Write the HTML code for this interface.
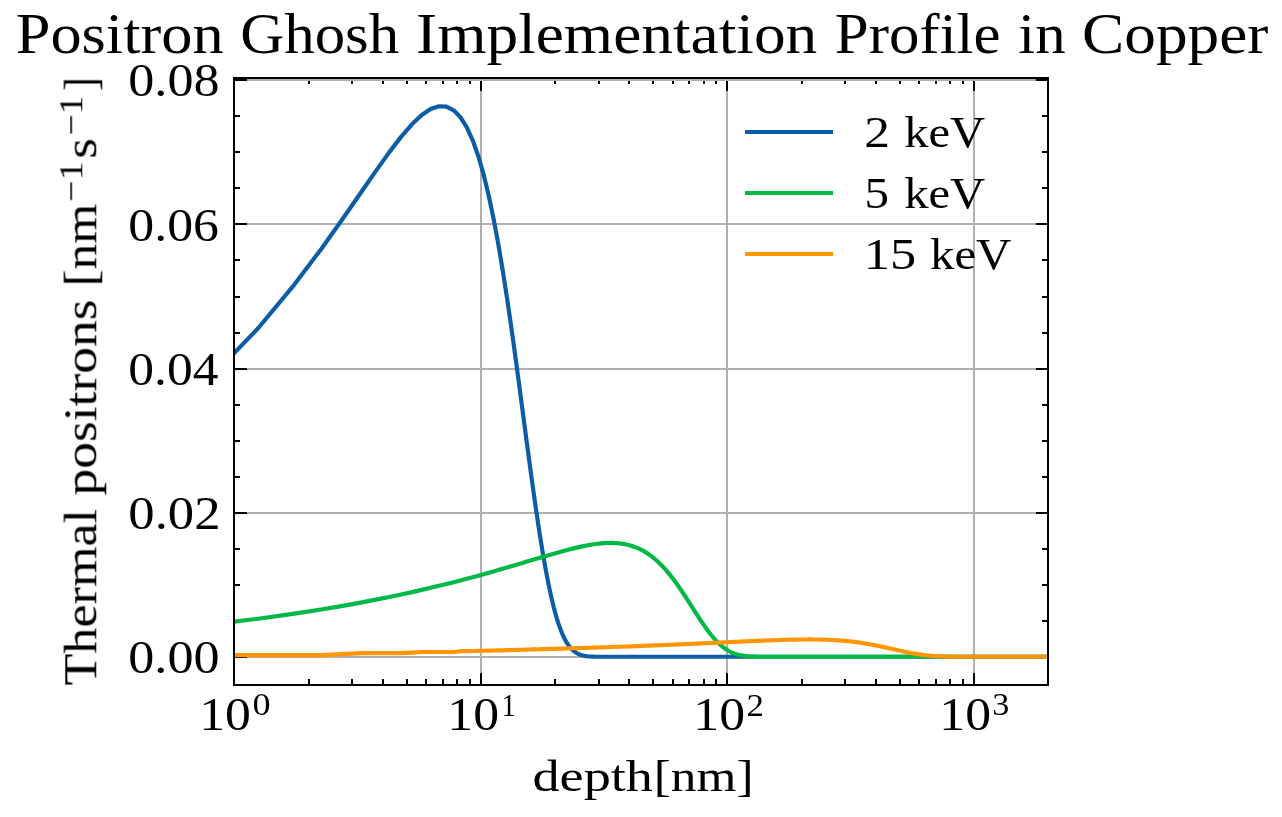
<!DOCTYPE html>
<html lang="en"><head><meta charset="utf-8"><title>Positron Ghosh Implementation Profile in Copper</title>
<style>html,body{margin:0;padding:0;background:#fff}svg{display:block}text{font-family:"Liberation Serif",serif;fill:#000}</style></head><body>
<svg width="1282" height="817" viewBox="0 0 1282 817">
<rect width="1282" height="817" fill="#fff"/>
<defs><clipPath id="ax"><rect x="234.4375" y="78.375" width="813.75" height="606.375"/></clipPath></defs>
<g fill="#b0b0b0"><rect x="480" y="78.375" width="2" height="606.375"/><rect x="726" y="78.375" width="2" height="606.375"/><rect x="973" y="78.375" width="2" height="606.375"/></g>
<g fill="#000"><rect x="233" y="673" width="2" height="12"/><rect x="233" y="78" width="2" height="13"/><rect x="308" y="679" width="2" height="6"/><rect x="308" y="78" width="2" height="6"/><rect x="351" y="679" width="2" height="6"/><rect x="351" y="78" width="2" height="6"/><rect x="382" y="679" width="2" height="6"/><rect x="382" y="78" width="2" height="6"/><rect x="406" y="679" width="2" height="6"/><rect x="406" y="78" width="2" height="6"/><rect x="425" y="679" width="2" height="6"/><rect x="425" y="78" width="2" height="6"/><rect x="442" y="679" width="2" height="6"/><rect x="442" y="78" width="2" height="6"/><rect x="456" y="679" width="2" height="6"/><rect x="456" y="78" width="2" height="6"/><rect x="469" y="679" width="2" height="6"/><rect x="469" y="78" width="2" height="6"/><rect x="480" y="673" width="2" height="12"/><rect x="480" y="78" width="2" height="13"/><rect x="554" y="679" width="2" height="6"/><rect x="554" y="78" width="2" height="6"/><rect x="598" y="679" width="2" height="6"/><rect x="598" y="78" width="2" height="6"/><rect x="628" y="679" width="2" height="6"/><rect x="628" y="78" width="2" height="6"/><rect x="652" y="679" width="2" height="6"/><rect x="652" y="78" width="2" height="6"/><rect x="672" y="679" width="2" height="6"/><rect x="672" y="78" width="2" height="6"/><rect x="688" y="679" width="2" height="6"/><rect x="688" y="78" width="2" height="6"/><rect x="703" y="679" width="2" height="6"/><rect x="703" y="78" width="2" height="6"/><rect x="715" y="679" width="2" height="6"/><rect x="715" y="78" width="2" height="6"/><rect x="726" y="673" width="2" height="12"/><rect x="726" y="78" width="2" height="13"/><rect x="801" y="679" width="2" height="6"/><rect x="801" y="78" width="2" height="6"/><rect x="844" y="679" width="2" height="6"/><rect x="844" y="78" width="2" height="6"/><rect x="875" y="679" width="2" height="6"/><rect x="875" y="78" width="2" height="6"/><rect x="899" y="679" width="2" height="6"/><rect x="899" y="78" width="2" height="6"/><rect x="918" y="679" width="2" height="6"/><rect x="918" y="78" width="2" height="6"/><rect x="935" y="679" width="2" height="6"/><rect x="935" y="78" width="2" height="6"/><rect x="949" y="679" width="2" height="6"/><rect x="949" y="78" width="2" height="6"/><rect x="962" y="679" width="2" height="6"/><rect x="962" y="78" width="2" height="6"/><rect x="973" y="673" width="2" height="12"/><rect x="973" y="78" width="2" height="13"/><rect x="1047" y="679" width="2" height="6"/><rect x="1047" y="78" width="2" height="6"/></g>
<g fill="#b0b0b0"><rect x="234.4375" y="656" width="813.75" height="2"/><rect x="234.4375" y="512" width="813.75" height="2"/><rect x="234.4375" y="368" width="813.75" height="2"/><rect x="234.4375" y="223" width="813.75" height="2"/><rect x="234.4375" y="79" width="813.75" height="2"/></g>
<g fill="#000"><rect x="234" y="656" width="13" height="2"/><rect x="1036" y="656" width="12" height="2"/><rect x="234" y="620" width="6" height="2"/><rect x="1042" y="620" width="6" height="2"/><rect x="234" y="584" width="6" height="2"/><rect x="1042" y="584" width="6" height="2"/><rect x="234" y="548" width="6" height="2"/><rect x="1042" y="548" width="6" height="2"/><rect x="234" y="512" width="13" height="2"/><rect x="1036" y="512" width="12" height="2"/><rect x="234" y="476" width="6" height="2"/><rect x="1042" y="476" width="6" height="2"/><rect x="234" y="440" width="6" height="2"/><rect x="1042" y="440" width="6" height="2"/><rect x="234" y="404" width="6" height="2"/><rect x="1042" y="404" width="6" height="2"/><rect x="234" y="368" width="13" height="2"/><rect x="1036" y="368" width="12" height="2"/><rect x="234" y="332" width="6" height="2"/><rect x="1042" y="332" width="6" height="2"/><rect x="234" y="296" width="6" height="2"/><rect x="1042" y="296" width="6" height="2"/><rect x="234" y="259" width="6" height="2"/><rect x="1042" y="259" width="6" height="2"/><rect x="234" y="223" width="13" height="2"/><rect x="1036" y="223" width="12" height="2"/><rect x="234" y="187" width="6" height="2"/><rect x="1042" y="187" width="6" height="2"/><rect x="234" y="151" width="6" height="2"/><rect x="1042" y="151" width="6" height="2"/><rect x="234" y="115" width="6" height="2"/><rect x="1042" y="115" width="6" height="2"/><rect x="234" y="79" width="13" height="2"/><rect x="1036" y="79" width="12" height="2"/></g>
<g clip-path="url(#ax)" fill="none" stroke-width="4.1667" stroke-linejoin="round">
<polyline stroke="#0C5DA5" points="203.64,384.76 258.33,327.98 294.35,284.56 321.26,248.94 342.74,218.80 360.62,192.97 375.94,170.86 389.34,152.14 401.25,136.63 411.97,124.29 421.71,115.10 430.63,109.07 438.87,106.25 446.52,106.65 453.66,110.27 460.36,117.09 466.66,127.05 472.60,140.05 478.24,155.93 483.60,174.49 488.69,195.50 493.56,218.66 498.22,243.64 502.68,270.09 506.96,297.61 511.08,325.81 515.05,354.28 518.87,382.63 522.56,410.48 526.13,437.48 529.58,463.31 532.93,487.72 536.17,510.50 539.32,531.47 542.38,550.55 545.36,567.67 548.25,582.85 551.07,596.13 553.81,607.59 556.49,617.35 559.10,625.56 561.65,632.36 564.14,637.92 566.57,642.40 568.95,645.96 571.28,648.75 573.56,650.90 575.79,652.54 577.97,653.76 580.11,654.67 582.21,655.32 584.27,655.79 586.29,656.12 588.28,656.34 590.22,656.50 592.13,656.60 594.01,656.67 595.86,656.71 597.67,656.74 599.46,656.75 601.21,656.77 602.94,656.77 604.64,656.78 606.31,656.78 607.96,656.78 609.58,656.78 611.18,656.78 612.75,656.78 614.30,656.78 615.83,656.78 617.34,656.78 618.83,656.78 620.30,656.78 621.74,656.78 623.17,656.78 624.58,656.78 625.97,656.78 627.34,656.78 628.70,656.78 630.03,656.78 631.36,656.78 632.66,656.78 633.95,656.78 635.23,656.78 636.49,656.78 637.73,656.78 638.96,656.78 640.18,656.78 641.38,656.78 642.57,656.78 643.75,656.78 644.91,656.78 646.06,656.78 647.20,656.78 648.33,656.78 649.44,656.78 650.55,656.78 651.64,656.78 652.72,656.78 653.79,656.78 654.85,656.78 655.90,656.78 656.94,656.78 657.97,656.78 658.99,656.78 660.00,656.78 661.00,656.78 661.99,656.78 662.97,656.78 663.95,656.78 664.91,656.78 665.87,656.78 666.81,656.78 667.75,656.78 668.68,656.78 669.61,656.78 670.52,656.78 671.43,656.78 672.33,656.78 673.22,656.78 674.11,656.78 674.98,656.78 675.85,656.78 676.72,656.78 677.57,656.78 678.42,656.78 679.27,656.78 680.10,656.78 680.93,656.78 681.76,656.78 682.57,656.78 683.39,656.78 684.19,656.78 684.99,656.78 685.78,656.78 686.57,656.78 687.35,656.78 688.13,656.78 688.90,656.78 689.66,656.78 690.42,656.78 691.17,656.78 691.92,656.78 692.67,656.78 693.41,656.78 694.14,656.78 694.87,656.78 695.59,656.78 696.31,656.78 697.02,656.78 697.73,656.78 698.44,656.78 699.14,656.78 699.83,656.78 700.52,656.78 701.21,656.78 701.89,656.78 702.57,656.78 703.24,656.78 703.91,656.78 704.57,656.78 705.24,656.78 705.89,656.78 706.55,656.78 707.19,656.78 707.84,656.78 708.48,656.78 709.12,656.78 709.75,656.78 710.38,656.78 711.01,656.78 711.63,656.78 712.25,656.78 712.86,656.78 713.48,656.78 714.08,656.78 714.69,656.78 715.29,656.78 716.48,656.78 717.66,656.78 718.83,656.78 719.98,656.78 721.13,656.78 722.26,656.78 723.37,656.78 724.48,656.78 725.58,656.78 726.66,656.78 727.73,656.78 728.80,656.78 729.85,656.78 730.89,656.78 731.92,656.78 732.94,656.78 733.96,656.78 734.96,656.78 735.95,656.78 736.94,656.78 737.91,656.78 738.88,656.78 739.84,656.78 740.79,656.78 741.73,656.78 742.66,656.78 743.59,656.78 744.50,656.78 745.41,656.78 746.31,656.78 747.21,656.78 748.09,656.78 748.97,656.78 749.85,656.78 750.71,656.78 751.57,656.78 752.42,656.78 753.27,656.78 754.10,656.78 754.93,656.78 755.76,656.78 756.58,656.78 757.39,656.78 758.20,656.78 759.00,656.78 759.79,656.78 760.58,656.78 761.36,656.78 762.14,656.78 762.91,656.78 763.68,656.78 764.44,656.78 765.19,656.78 765.94,656.78 766.69,656.78 767.43,656.78 768.16,656.78 768.89,656.78 769.62,656.78 770.34,656.78 771.05,656.78 771.76,656.78 772.47,656.78 773.17,656.78 773.87,656.78 774.56,656.78 775.24,656.78 775.93,656.78 776.61,656.78 777.28,656.78 777.95,656.78 778.62,656.78 779.28,656.78 779.94,656.78 780.59,656.78 781.24,656.78 781.89,656.78 782.53,656.78 783.17,656.78 783.80,656.78 784.43,656.78 785.06,656.78 785.68,656.78 786.30,656.78 786.92,656.78 787.53,656.78 788.14,656.78 788.75,656.78 789.35,656.78 790.24,656.78 791.13,656.78 792.02,656.78 792.89,656.78 793.76,656.78 794.62,656.78 795.48,656.78 796.32,656.78 797.16,656.78 798.00,656.78 798.83,656.78 799.65,656.78 800.46,656.78 801.27,656.78 802.07,656.78 802.87,656.78 803.66,656.78 804.45,656.78 805.23,656.78 806.00,656.78 806.77,656.78 807.53,656.78 808.29,656.78 809.04,656.78 809.79,656.78 810.53,656.78 811.27,656.78 812.00,656.78 812.73,656.78 813.45,656.78 814.16,656.78 814.88,656.78 815.58,656.78 816.29,656.78 816.98,656.78 817.68,656.78 818.37,656.78 819.05,656.78 819.73,656.78 820.41,656.78 821.08,656.78 821.75,656.78 822.41,656.78 823.07,656.78 823.73,656.78 824.38,656.78 825.03,656.78 825.67,656.78 826.31,656.78 826.95,656.78 827.58,656.78 828.21,656.78 828.83,656.78 829.45,656.78 830.07,656.78 830.68,656.78 831.30,656.78 831.90,656.78 832.51,656.78 833.11,656.78 833.90,656.78 834.69,656.78 835.47,656.78 836.25,656.78 837.02,656.78 837.79,656.78 838.55,656.78 839.31,656.78 840.06,656.78 840.80,656.78 841.55,656.78 842.28,656.78 843.01,656.78 843.74,656.78 844.46,656.78 845.17,656.78 845.88,656.78 846.59,656.78 847.29,656.78 847.99,656.78 848.68,656.78 849.37,656.78 850.05,656.78 850.73,656.78 851.40,656.78 852.08,656.78 852.74,656.78 853.40,656.78 854.06,656.78 854.72,656.78 855.37,656.78 856.01,656.78 856.66,656.78 857.30,656.78 857.93,656.78 858.56,656.78 859.19,656.78 859.81,656.78 860.43,656.78 861.05,656.78 861.66,656.78 862.27,656.78 862.88,656.78 863.48,656.78 864.23,656.78 864.97,656.78 865.71,656.78 866.44,656.78 867.17,656.78 867.90,656.78 868.61,656.78 869.33,656.78 870.04,656.78 870.74,656.78 871.44,656.78 872.14,656.78 872.83,656.78 873.51,656.78 874.20,656.78 874.87,656.78 875.55,656.78 876.22,656.78 876.88,656.78 877.54,656.78 878.20,656.78 878.85,656.78 879.50,656.78 880.14,656.78 880.79,656.78 881.42,656.78 882.06,656.78 882.69,656.78 883.31,656.78 883.94,656.78 884.55,656.78 885.17,656.78 885.78,656.78 886.39,656.78 886.99,656.78 887.60,656.78 888.31,656.78 889.03,656.78 889.73,656.78 890.44,656.78 891.14,656.78 891.83,656.78 892.52,656.78 893.20,656.78 893.88,656.78 894.56,656.78 895.23,656.78 895.90,656.78 896.57,656.78 897.23,656.78 897.88,656.78 898.53,656.78 899.18,656.78 899.82,656.78 900.46,656.78 901.10,656.78 901.73,656.78 902.36,656.78 902.99,656.78 903.61,656.78 904.23,656.78 904.84,656.78 905.45,656.78 906.06,656.78 906.66,656.78 907.26,656.78 907.96,656.78 908.65,656.78 909.34,656.78 910.02,656.78 910.70,656.78 911.38,656.78 912.05,656.78 912.71,656.78 913.38,656.78 914.03,656.78 914.69,656.78 915.34,656.78 915.98,656.78 916.63,656.78 917.26,656.78 917.90,656.78 918.53,656.78 919.16,656.78 919.78,656.78 920.40,656.78 921.02,656.78 921.63,656.78 922.24,656.78 922.84,656.78 923.45,656.78 924.13,656.78 924.81,656.78 925.49,656.78 926.16,656.78 926.83,656.78 927.49,656.78 928.15,656.78 928.80,656.78 929.45,656.78 930.10,656.78 930.74,656.78 931.38,656.78 932.02,656.78 932.65,656.78 933.28,656.78 933.90,656.78 934.52,656.78 935.14,656.78 935.76,656.78 936.37,656.78 936.97,656.78 937.58,656.78 938.25,656.78 938.92,656.78 939.59,656.78 940.25,656.78 940.91,656.78 941.56,656.78 942.21,656.78 942.86,656.78 943.50,656.78 944.14,656.78 944.77,656.78 945.41,656.78 946.03,656.78 946.66,656.78 947.28,656.78 947.89,656.78 948.51,656.78 949.12,656.78 949.72,656.78 950.32,656.78 950.99,656.78 951.65,656.78 952.31,656.78 952.96,656.78 953.61,656.78 954.26,656.78 954.90,656.78 955.54,656.78 956.17,656.78 956.80,656.78 957.43,656.78 958.05,656.78 958.67,656.78 959.29,656.78 959.90,656.78 960.51,656.78 961.11,656.78 961.71,656.78 962.37,656.78 963.03,656.78 963.68,656.78 964.32,656.78 964.97,656.78 965.60,656.78 966.24,656.78 966.87,656.78 967.50,656.78 968.12,656.78 968.74,656.78 969.36,656.78 969.97,656.78 970.58,656.78 971.19,656.78 971.79,656.78 972.44,656.78 973.09,656.78 973.74,656.78 974.38,656.78 975.02,656.78 975.65,656.78 976.28,656.78 976.91,656.78 977.53,656.78 978.15,656.78 978.77,656.78 979.38,656.78 979.99,656.78 980.60,656.78 981.20,656.78 981.85,656.78 982.49,656.78 983.13,656.78 983.77,656.78 984.40,656.78 985.03,656.78 985.66,656.78 986.28,656.78 986.90,656.78 987.51,656.78 988.12,656.78 988.73,656.78 989.34,656.78 989.94,656.78 990.58,656.78 991.22,656.78 991.86,656.78 992.49,656.78 993.12,656.78 993.74,656.78 994.37,656.78 994.98,656.78 995.60,656.78 996.21,656.78 996.81,656.78 997.42,656.78 998.02,656.78 998.66,656.78 999.29,656.78 999.93,656.78 1000.55,656.78 1001.18,656.78 1001.80,656.78 1002.42,656.78 1003.03,656.78 1003.64,656.78 1004.25,656.78 1004.85,656.78 1005.45,656.78 1006.09,656.78 1006.72,656.78 1007.35,656.78 1007.98,656.78 1008.60,656.78 1009.22,656.78 1009.83,656.78 1010.44,656.78 1011.05,656.78 1011.65,656.78 1012.25,656.78 1012.89,656.78 1013.52,656.78 1014.15,656.78 1014.77,656.78 1015.39,656.78 1016.01,656.78 1016.62,656.78 1017.23,656.78 1017.83,656.78 1018.44,656.78 1019.07,656.78 1019.70,656.78 1020.33,656.78 1020.95,656.78 1021.57,656.78 1022.19,656.78 1022.80,656.78 1023.41,656.78 1024.01,656.78 1024.62,656.78 1025.25,656.78 1025.88,656.78 1026.50,656.78 1027.12,656.78 1027.74,656.78 1028.35,656.78 1028.96,656.78 1029.57,656.78 1030.17,656.78 1030.77,656.78 1031.40,656.78 1032.02,656.78 1032.65,656.78 1033.26,656.78 1033.88,656.78 1034.49,656.78 1035.09,656.78 1035.70,656.78 1036.33,656.78 1036.95,656.78 1037.57,656.78 1038.19,656.78 1038.81,656.78 1039.42,656.78 1040.03,656.78 1040.63,656.78 1041.24,656.78 1041.86,656.78 1042.48,656.78 1043.10,656.78 1043.72,656.78 1044.33,656.78 1044.94,656.78 1045.55,656.78 1046.15,656.78 1046.77,656.78 1047.40,656.78 1048.01,656.78 1048.20,656.78"/>
<polyline stroke="#00B945" points="203.64,625.26 258.33,618.71 294.35,613.67 321.26,609.48 342.74,605.83 360.62,602.59 375.94,599.65 389.34,596.95 401.25,594.45 411.97,592.10 421.71,589.90 430.63,587.82 438.87,585.84 446.52,583.96 453.66,582.16 460.36,580.44 466.66,578.79 472.60,577.20 478.24,575.67 483.60,574.19 488.69,572.77 493.56,571.39 498.22,570.06 502.68,568.77 506.96,567.53 511.08,566.32 515.05,565.15 518.87,564.02 522.56,562.92 526.13,561.86 529.58,560.83 532.93,559.83 536.17,558.86 539.32,557.92 542.38,557.02 545.36,556.14 548.25,555.30 551.07,554.48 553.81,553.69 556.49,552.93 559.10,552.20 561.65,551.49 564.14,550.82 566.57,550.17 568.95,549.55 571.28,548.96 573.56,548.39 575.79,547.86 577.97,547.35 580.11,546.86 582.21,546.41 584.27,545.98 586.29,545.58 588.28,545.21 590.22,544.87 592.13,544.55 594.01,544.26 595.86,544.00 597.67,543.77 599.46,543.56 601.21,543.39 602.94,543.24 604.64,543.12 606.31,543.03 607.96,542.96 609.58,542.93 611.18,542.92 612.75,542.94 614.30,543.00 615.83,543.07 617.34,543.18 618.83,543.32 620.30,543.48 621.74,543.67 623.17,543.89 624.58,544.14 625.97,544.42 627.34,544.72 628.70,545.06 630.03,545.42 631.36,545.81 632.66,546.22 633.95,546.67 635.23,547.14 636.49,547.63 637.73,548.16 638.96,548.71 640.18,549.28 641.38,549.89 642.57,550.52 643.75,551.17 644.91,551.85 646.06,552.55 647.20,553.28 648.33,554.03 649.44,554.80 650.55,555.60 651.64,556.42 652.72,557.26 653.79,558.13 654.85,559.01 655.90,559.92 656.94,560.84 657.97,561.79 658.99,562.75 660.00,563.74 661.00,564.74 661.99,565.75 662.97,566.79 663.95,567.84 664.91,568.90 665.87,569.98 666.81,571.08 667.75,572.18 668.68,573.30 669.61,574.44 670.52,575.58 671.43,576.73 672.33,577.89 673.22,579.07 674.11,580.25 674.98,581.43 675.85,582.63 676.72,583.83 677.57,585.03 678.42,586.24 679.27,587.46 680.10,588.68 680.93,589.90 681.76,591.12 682.57,592.34 683.39,593.56 684.19,594.78 684.99,596.00 685.78,597.22 686.57,598.43 687.35,599.65 688.13,600.85 688.90,602.06 689.66,603.25 690.42,604.45 691.17,605.63 691.92,606.81 692.67,607.98 693.41,609.14 694.14,610.29 694.87,611.43 695.59,612.56 696.31,613.68 697.02,614.79 697.73,615.88 698.44,616.97 699.14,618.04 699.83,619.10 700.52,620.14 701.21,621.18 701.89,622.19 702.57,623.19 703.24,624.18 703.91,625.15 704.57,626.11 705.24,627.05 705.89,627.97 706.55,628.88 707.19,629.77 707.84,630.64 708.48,631.50 709.12,632.34 709.75,633.16 710.38,633.97 711.01,634.76 711.63,635.53 712.25,636.28 712.86,637.02 713.48,637.74 714.08,638.44 714.69,639.12 715.29,639.79 716.48,641.07 717.66,642.28 718.83,643.42 719.98,644.50 721.13,645.52 722.26,646.47 723.37,647.36 724.48,648.19 725.58,648.96 726.66,649.68 727.73,650.35 728.80,650.97 729.85,651.54 730.89,652.06 731.92,652.54 732.94,652.98 733.96,653.38 734.96,653.75 735.95,654.08 736.94,654.39 737.91,654.66 738.88,654.91 739.84,655.13 740.79,655.33 741.73,655.51 742.66,655.66 743.59,655.81 744.50,655.93 745.41,656.04 746.31,656.14 747.21,656.23 748.09,656.30 748.97,656.37 749.85,656.43 750.71,656.48 751.57,656.52 752.42,656.56 753.27,656.60 754.10,656.62 754.93,656.65 755.76,656.67 756.58,656.69 757.39,656.70 758.20,656.71 759.00,656.73 759.79,656.74 760.58,656.74 761.36,656.75 762.14,656.75 762.91,656.76 763.68,656.76 764.44,656.77 765.19,656.77 765.94,656.77 766.69,656.77 767.43,656.77 768.16,656.78 768.89,656.78 769.62,656.78 770.34,656.78 771.05,656.78 771.76,656.78 772.47,656.78 773.17,656.78 773.87,656.78 774.56,656.78 775.24,656.78 775.93,656.78 776.61,656.78 777.28,656.78 777.95,656.78 778.62,656.78 779.28,656.78 779.94,656.78 780.59,656.78 781.24,656.78 781.89,656.78 782.53,656.78 783.17,656.78 783.80,656.78 784.43,656.78 785.06,656.78 785.68,656.78 786.30,656.78 786.92,656.78 787.53,656.78 788.14,656.78 788.75,656.78 789.35,656.78 790.24,656.78 791.13,656.78 792.02,656.78 792.89,656.78 793.76,656.78 794.62,656.78 795.48,656.78 796.32,656.78 797.16,656.78 798.00,656.78 798.83,656.78 799.65,656.78 800.46,656.78 801.27,656.78 802.07,656.78 802.87,656.78 803.66,656.78 804.45,656.78 805.23,656.78 806.00,656.78 806.77,656.78 807.53,656.78 808.29,656.78 809.04,656.78 809.79,656.78 810.53,656.78 811.27,656.78 812.00,656.78 812.73,656.78 813.45,656.78 814.16,656.78 814.88,656.78 815.58,656.78 816.29,656.78 816.98,656.78 817.68,656.78 818.37,656.78 819.05,656.78 819.73,656.78 820.41,656.78 821.08,656.78 821.75,656.78 822.41,656.78 823.07,656.78 823.73,656.78 824.38,656.78 825.03,656.78 825.67,656.78 826.31,656.78 826.95,656.78 827.58,656.78 828.21,656.78 828.83,656.78 829.45,656.78 830.07,656.78 830.68,656.78 831.30,656.78 831.90,656.78 832.51,656.78 833.11,656.78 833.90,656.78 834.69,656.78 835.47,656.78 836.25,656.78 837.02,656.78 837.79,656.78 838.55,656.78 839.31,656.78 840.06,656.78 840.80,656.78 841.55,656.78 842.28,656.78 843.01,656.78 843.74,656.78 844.46,656.78 845.17,656.78 845.88,656.78 846.59,656.78 847.29,656.78 847.99,656.78 848.68,656.78 849.37,656.78 850.05,656.78 850.73,656.78 851.40,656.78 852.08,656.78 852.74,656.78 853.40,656.78 854.06,656.78 854.72,656.78 855.37,656.78 856.01,656.78 856.66,656.78 857.30,656.78 857.93,656.78 858.56,656.78 859.19,656.78 859.81,656.78 860.43,656.78 861.05,656.78 861.66,656.78 862.27,656.78 862.88,656.78 863.48,656.78 864.23,656.78 864.97,656.78 865.71,656.78 866.44,656.78 867.17,656.78 867.90,656.78 868.61,656.78 869.33,656.78 870.04,656.78 870.74,656.78 871.44,656.78 872.14,656.78 872.83,656.78 873.51,656.78 874.20,656.78 874.87,656.78 875.55,656.78 876.22,656.78 876.88,656.78 877.54,656.78 878.20,656.78 878.85,656.78 879.50,656.78 880.14,656.78 880.79,656.78 881.42,656.78 882.06,656.78 882.69,656.78 883.31,656.78 883.94,656.78 884.55,656.78 885.17,656.78 885.78,656.78 886.39,656.78 886.99,656.78 887.60,656.78 888.31,656.78 889.03,656.78 889.73,656.78 890.44,656.78 891.14,656.78 891.83,656.78 892.52,656.78 893.20,656.78 893.88,656.78 894.56,656.78 895.23,656.78 895.90,656.78 896.57,656.78 897.23,656.78 897.88,656.78 898.53,656.78 899.18,656.78 899.82,656.78 900.46,656.78 901.10,656.78 901.73,656.78 902.36,656.78 902.99,656.78 903.61,656.78 904.23,656.78 904.84,656.78 905.45,656.78 906.06,656.78 906.66,656.78 907.26,656.78 907.96,656.78 908.65,656.78 909.34,656.78 910.02,656.78 910.70,656.78 911.38,656.78 912.05,656.78 912.71,656.78 913.38,656.78 914.03,656.78 914.69,656.78 915.34,656.78 915.98,656.78 916.63,656.78 917.26,656.78 917.90,656.78 918.53,656.78 919.16,656.78 919.78,656.78 920.40,656.78 921.02,656.78 921.63,656.78 922.24,656.78 922.84,656.78 923.45,656.78 924.13,656.78 924.81,656.78 925.49,656.78 926.16,656.78 926.83,656.78 927.49,656.78 928.15,656.78 928.80,656.78 929.45,656.78 930.10,656.78 930.74,656.78 931.38,656.78 932.02,656.78 932.65,656.78 933.28,656.78 933.90,656.78 934.52,656.78 935.14,656.78 935.76,656.78 936.37,656.78 936.97,656.78 937.58,656.78 938.25,656.78 938.92,656.78 939.59,656.78 940.25,656.78 940.91,656.78 941.56,656.78 942.21,656.78 942.86,656.78 943.50,656.78 944.14,656.78 944.77,656.78 945.41,656.78 946.03,656.78 946.66,656.78 947.28,656.78 947.89,656.78 948.51,656.78 949.12,656.78 949.72,656.78 950.32,656.78 950.99,656.78 951.65,656.78 952.31,656.78 952.96,656.78 953.61,656.78 954.26,656.78 954.90,656.78 955.54,656.78 956.17,656.78 956.80,656.78 957.43,656.78 958.05,656.78 958.67,656.78 959.29,656.78 959.90,656.78 960.51,656.78 961.11,656.78 961.71,656.78 962.37,656.78 963.03,656.78 963.68,656.78 964.32,656.78 964.97,656.78 965.60,656.78 966.24,656.78 966.87,656.78 967.50,656.78 968.12,656.78 968.74,656.78 969.36,656.78 969.97,656.78 970.58,656.78 971.19,656.78 971.79,656.78 972.44,656.78 973.09,656.78 973.74,656.78 974.38,656.78 975.02,656.78 975.65,656.78 976.28,656.78 976.91,656.78 977.53,656.78 978.15,656.78 978.77,656.78 979.38,656.78 979.99,656.78 980.60,656.78 981.20,656.78 981.85,656.78 982.49,656.78 983.13,656.78 983.77,656.78 984.40,656.78 985.03,656.78 985.66,656.78 986.28,656.78 986.90,656.78 987.51,656.78 988.12,656.78 988.73,656.78 989.34,656.78 989.94,656.78 990.58,656.78 991.22,656.78 991.86,656.78 992.49,656.78 993.12,656.78 993.74,656.78 994.37,656.78 994.98,656.78 995.60,656.78 996.21,656.78 996.81,656.78 997.42,656.78 998.02,656.78 998.66,656.78 999.29,656.78 999.93,656.78 1000.55,656.78 1001.18,656.78 1001.80,656.78 1002.42,656.78 1003.03,656.78 1003.64,656.78 1004.25,656.78 1004.85,656.78 1005.45,656.78 1006.09,656.78 1006.72,656.78 1007.35,656.78 1007.98,656.78 1008.60,656.78 1009.22,656.78 1009.83,656.78 1010.44,656.78 1011.05,656.78 1011.65,656.78 1012.25,656.78 1012.89,656.78 1013.52,656.78 1014.15,656.78 1014.77,656.78 1015.39,656.78 1016.01,656.78 1016.62,656.78 1017.23,656.78 1017.83,656.78 1018.44,656.78 1019.07,656.78 1019.70,656.78 1020.33,656.78 1020.95,656.78 1021.57,656.78 1022.19,656.78 1022.80,656.78 1023.41,656.78 1024.01,656.78 1024.62,656.78 1025.25,656.78 1025.88,656.78 1026.50,656.78 1027.12,656.78 1027.74,656.78 1028.35,656.78 1028.96,656.78 1029.57,656.78 1030.17,656.78 1030.77,656.78 1031.40,656.78 1032.02,656.78 1032.65,656.78 1033.26,656.78 1033.88,656.78 1034.49,656.78 1035.09,656.78 1035.70,656.78 1036.33,656.78 1036.95,656.78 1037.57,656.78 1038.19,656.78 1038.81,656.78 1039.42,656.78 1040.03,656.78 1040.63,656.78 1041.24,656.78 1041.86,656.78 1042.48,656.78 1043.10,656.78 1043.72,656.78 1044.33,656.78 1044.94,656.78 1045.55,656.78 1046.15,656.78 1046.77,656.78 1047.40,656.78 1048.01,656.78 1048.20,656.78"/>
<polyline stroke="#FF9500" points="203.64,655.20 258.33,655.20 294.35,655.20 321.26,655.20 342.74,654.15 360.62,653.10 375.94,653.10 389.34,653.10 401.25,653.10 411.97,652.55 421.71,652.00 430.63,652.00 438.87,652.00 446.52,652.00 453.66,652.00 460.36,651.20 466.66,651.09 472.60,650.98 478.24,650.87 483.60,650.76 488.69,650.65 493.56,650.53 498.22,650.42 502.68,650.31 506.96,650.20 511.08,650.09 515.05,649.98 518.87,649.86 522.56,649.75 526.13,649.64 529.58,649.53 532.93,649.43 536.17,649.34 539.32,649.26 542.38,649.18 545.36,649.09 548.25,649.01 551.07,648.93 553.81,648.86 556.49,648.78 559.10,648.70 561.65,648.63 564.14,648.56 566.57,648.48 568.95,648.41 571.28,648.34 573.56,648.27 575.79,648.20 577.97,648.14 580.11,648.07 582.21,648.00 584.27,647.94 586.29,647.87 588.28,647.81 590.22,647.75 592.13,647.68 594.01,647.62 595.86,647.56 597.67,647.50 599.46,647.44 601.21,647.38 602.94,647.33 604.64,647.27 606.31,647.21 607.96,647.15 609.58,647.10 611.18,647.04 612.75,646.99 614.30,646.93 615.83,646.88 617.34,646.82 618.83,646.77 620.30,646.72 621.74,646.67 623.17,646.61 624.58,646.56 625.97,646.51 627.34,646.46 628.70,646.41 630.03,646.36 631.36,646.31 632.66,646.26 633.95,646.22 635.23,646.17 636.49,646.12 637.73,646.07 638.96,646.02 640.18,645.98 641.38,645.93 642.57,645.89 643.75,645.84 644.91,645.79 646.06,645.75 647.20,645.70 648.33,645.66 649.44,645.62 650.55,645.57 651.64,645.53 652.72,645.49 653.79,645.44 654.85,645.40 655.90,645.36 656.94,645.32 657.97,645.27 658.99,645.23 660.00,645.19 661.00,645.15 661.99,645.11 662.97,645.07 663.95,645.03 664.91,644.99 665.87,644.95 666.81,644.91 667.75,644.87 668.68,644.83 669.61,644.79 670.52,644.75 671.43,644.71 672.33,644.68 673.22,644.64 674.11,644.60 674.98,644.56 675.85,644.53 676.72,644.49 677.57,644.45 678.42,644.42 679.27,644.38 680.10,644.34 680.93,644.31 681.76,644.27 682.57,644.24 683.39,644.20 684.19,644.17 684.99,644.13 685.78,644.10 686.57,644.06 687.35,644.03 688.13,643.99 688.90,643.96 689.66,643.92 690.42,643.89 691.17,643.86 691.92,643.82 692.67,643.79 693.41,643.76 694.14,643.73 694.87,643.69 695.59,643.66 696.31,643.63 697.02,643.60 697.73,643.56 698.44,643.53 699.14,643.50 699.83,643.47 700.52,643.44 701.21,643.41 701.89,643.38 702.57,643.34 703.24,643.31 703.91,643.28 704.57,643.25 705.24,643.22 705.89,643.19 706.55,643.16 707.19,643.13 707.84,643.10 708.48,643.07 709.12,643.05 709.75,643.02 710.38,642.99 711.01,642.96 711.63,642.93 712.25,642.90 712.86,642.87 713.48,642.84 714.08,642.82 714.69,642.79 715.29,642.76 716.48,642.71 717.66,642.65 718.83,642.60 719.98,642.54 721.13,642.49 722.26,642.44 723.37,642.39 724.48,642.33 725.58,642.28 726.66,642.23 727.73,642.18 728.80,642.13 729.85,642.09 730.89,642.04 731.92,641.99 732.94,641.94 733.96,641.90 734.96,641.85 735.95,641.80 736.94,641.76 737.91,641.71 738.88,641.67 739.84,641.62 740.79,641.58 741.73,641.54 742.66,641.50 743.59,641.45 744.50,641.41 745.41,641.37 746.31,641.33 747.21,641.29 748.09,641.25 748.97,641.21 749.85,641.17 750.71,641.13 751.57,641.10 752.42,641.06 753.27,641.02 754.10,640.99 754.93,640.95 755.76,640.91 756.58,640.88 757.39,640.84 758.20,640.81 759.00,640.78 759.79,640.74 760.58,640.71 761.36,640.68 762.14,640.64 762.91,640.61 763.68,640.58 764.44,640.55 765.19,640.52 765.94,640.49 766.69,640.46 767.43,640.43 768.16,640.40 768.89,640.37 769.62,640.35 770.34,640.32 771.05,640.29 771.76,640.27 772.47,640.24 773.17,640.21 773.87,640.19 774.56,640.16 775.24,640.14 775.93,640.12 776.61,640.09 777.28,640.07 777.95,640.05 778.62,640.02 779.28,640.00 779.94,639.98 780.59,639.96 781.24,639.94 781.89,639.92 782.53,639.90 783.17,639.88 783.80,639.86 784.43,639.84 785.06,639.83 785.68,639.81 786.30,639.79 786.92,639.77 787.53,639.76 788.14,639.74 788.75,639.73 789.35,639.71 790.24,639.69 791.13,639.67 792.02,639.65 792.89,639.63 793.76,639.61 794.62,639.60 795.48,639.58 796.32,639.56 797.16,639.55 798.00,639.54 798.83,639.52 799.65,639.51 800.46,639.50 801.27,639.49 802.07,639.48 802.87,639.48 803.66,639.47 804.45,639.46 805.23,639.46 806.00,639.46 806.77,639.45 807.53,639.45 808.29,639.45 809.04,639.45 809.79,639.45 810.53,639.45 811.27,639.45 812.00,639.46 812.73,639.46 813.45,639.47 814.16,639.47 814.88,639.48 815.58,639.49 816.29,639.50 816.98,639.51 817.68,639.52 818.37,639.53 819.05,639.54 819.73,639.56 820.41,639.57 821.08,639.59 821.75,639.60 822.41,639.62 823.07,639.64 823.73,639.66 824.38,639.68 825.03,639.70 825.67,639.72 826.31,639.74 826.95,639.77 827.58,639.79 828.21,639.82 828.83,639.84 829.45,639.87 830.07,639.90 830.68,639.93 831.30,639.96 831.90,639.99 832.51,640.02 833.11,640.05 833.90,640.09 834.69,640.14 835.47,640.19 836.25,640.23 837.02,640.28 837.79,640.34 838.55,640.39 839.31,640.44 840.06,640.50 840.80,640.56 841.55,640.61 842.28,640.67 843.01,640.74 843.74,640.80 844.46,640.86 845.17,640.93 845.88,640.99 846.59,641.06 847.29,641.13 847.99,641.20 848.68,641.27 849.37,641.34 850.05,641.42 850.73,641.49 851.40,641.57 852.08,641.65 852.74,641.72 853.40,641.80 854.06,641.88 854.72,641.97 855.37,642.05 856.01,642.13 856.66,642.22 857.30,642.30 857.93,642.39 858.56,642.48 859.19,642.57 859.81,642.66 860.43,642.75 861.05,642.84 861.66,642.93 862.27,643.02 862.88,643.12 863.48,643.21 864.23,643.33 864.97,643.45 865.71,643.58 866.44,643.70 867.17,643.82 867.90,643.95 868.61,644.07 869.33,644.20 870.04,644.33 870.74,644.46 871.44,644.59 872.14,644.72 872.83,644.85 873.51,644.98 874.20,645.11 874.87,645.24 875.55,645.38 876.22,645.51 876.88,645.64 877.54,645.78 878.20,645.91 878.85,646.05 879.50,646.18 880.14,646.32 880.79,646.45 881.42,646.59 882.06,646.72 882.69,646.86 883.31,646.99 883.94,647.13 884.55,647.27 885.17,647.40 885.78,647.54 886.39,647.67 886.99,647.81 887.60,647.94 888.31,648.10 889.03,648.26 889.73,648.42 890.44,648.58 891.14,648.74 891.83,648.89 892.52,649.05 893.20,649.20 893.88,649.36 894.56,649.51 895.23,649.66 895.90,649.81 896.57,649.96 897.23,650.11 897.88,650.26 898.53,650.40 899.18,650.55 899.82,650.69 900.46,650.83 901.10,650.97 901.73,651.11 902.36,651.25 902.99,651.38 903.61,651.51 904.23,651.65 904.84,651.77 905.45,651.90 906.06,652.03 906.66,652.15 907.26,652.27 907.96,652.41 908.65,652.55 909.34,652.69 910.02,652.82 910.70,652.95 911.38,653.08 912.05,653.20 912.71,653.32 913.38,653.44 914.03,653.56 914.69,653.67 915.34,653.78 915.98,653.89 916.63,654.00 917.26,654.10 917.90,654.20 918.53,654.30 919.16,654.39 919.78,654.49 920.40,654.58 921.02,654.66 921.63,654.75 922.24,654.83 922.84,654.91 923.45,654.99 924.13,655.07 924.81,655.16 925.49,655.24 926.16,655.31 926.83,655.39 927.49,655.46 928.15,655.52 928.80,655.59 929.45,655.65 930.10,655.71 930.74,655.77 931.38,655.82 932.02,655.88 932.65,655.93 933.28,655.98 933.90,656.02 934.52,656.06 935.14,656.11 935.76,656.15 936.37,656.18 936.97,656.22 937.58,656.25 938.25,656.29 938.92,656.32 939.59,656.36 940.25,656.39 940.91,656.41 941.56,656.44 942.21,656.47 942.86,656.49 943.50,656.51 944.14,656.53 944.77,656.55 945.41,656.57 946.03,656.58 946.66,656.60 947.28,656.61 947.89,656.63 948.51,656.64 949.12,656.65 949.72,656.66 950.32,656.67 950.99,656.68 951.65,656.69 952.31,656.70 952.96,656.71 953.61,656.72 954.26,656.72 954.90,656.73 955.54,656.73 956.17,656.74 956.80,656.74 957.43,656.75 958.05,656.75 958.67,656.75 959.29,656.76 959.90,656.76 960.51,656.76 961.11,656.76 961.71,656.76 962.37,656.77 963.03,656.77 963.68,656.77 964.32,656.77 964.97,656.77 965.60,656.77 966.24,656.77 966.87,656.77 967.50,656.78 968.12,656.78 968.74,656.78 969.36,656.78 969.97,656.78 970.58,656.78 971.19,656.78 971.79,656.78 972.44,656.78 973.09,656.78 973.74,656.78 974.38,656.78 975.02,656.78 975.65,656.78 976.28,656.78 976.91,656.78 977.53,656.78 978.15,656.78 978.77,656.78 979.38,656.78 979.99,656.78 980.60,656.78 981.20,656.78 981.85,656.78 982.49,656.78 983.13,656.78 983.77,656.78 984.40,656.78 985.03,656.78 985.66,656.78 986.28,656.78 986.90,656.78 987.51,656.78 988.12,656.78 988.73,656.78 989.34,656.78 989.94,656.78 990.58,656.78 991.22,656.78 991.86,656.78 992.49,656.78 993.12,656.78 993.74,656.78 994.37,656.78 994.98,656.78 995.60,656.78 996.21,656.78 996.81,656.78 997.42,656.78 998.02,656.78 998.66,656.78 999.29,656.78 999.93,656.78 1000.55,656.78 1001.18,656.78 1001.80,656.78 1002.42,656.78 1003.03,656.78 1003.64,656.78 1004.25,656.78 1004.85,656.78 1005.45,656.78 1006.09,656.78 1006.72,656.78 1007.35,656.78 1007.98,656.78 1008.60,656.78 1009.22,656.78 1009.83,656.78 1010.44,656.78 1011.05,656.78 1011.65,656.78 1012.25,656.78 1012.89,656.78 1013.52,656.78 1014.15,656.78 1014.77,656.78 1015.39,656.78 1016.01,656.78 1016.62,656.78 1017.23,656.78 1017.83,656.78 1018.44,656.78 1019.07,656.78 1019.70,656.78 1020.33,656.78 1020.95,656.78 1021.57,656.78 1022.19,656.78 1022.80,656.78 1023.41,656.78 1024.01,656.78 1024.62,656.78 1025.25,656.78 1025.88,656.78 1026.50,656.78 1027.12,656.78 1027.74,656.78 1028.35,656.78 1028.96,656.78 1029.57,656.78 1030.17,656.78 1030.77,656.78 1031.40,656.78 1032.02,656.78 1032.65,656.78 1033.26,656.78 1033.88,656.78 1034.49,656.78 1035.09,656.78 1035.70,656.78 1036.33,656.78 1036.95,656.78 1037.57,656.78 1038.19,656.78 1038.81,656.78 1039.42,656.78 1040.03,656.78 1040.63,656.78 1041.24,656.78 1041.86,656.78 1042.48,656.78 1043.10,656.78 1043.72,656.78 1044.33,656.78 1044.94,656.78 1045.55,656.78 1046.15,656.78 1046.77,656.78 1047.40,656.78 1048.01,656.78 1048.20,656.78"/>
</g>
<g fill="#000"><rect x="233" y="77" width="2" height="609"/><rect x="1047" y="77" width="2" height="609"/><rect x="233" y="77" width="816" height="2"/><rect x="233" y="684" width="816" height="2"/></g>
<rect x="745" y="130" width="88" height="4" fill="#0C5DA5"/>
<rect x="745" y="191" width="88" height="4" fill="#00B945"/>
<rect x="745" y="252" width="88" height="4" fill="#FF9500"/>
<defs><filter id="gray" filterUnits="userSpaceOnUse" x="0" y="0" width="1282" height="817"><feColorMatrix type="saturate" values="0"/></filter></defs>
<g filter="url(#gray)">
<text transform="translate(0.00 53.40) scale(1 0.5682)" font-size="100" xml:space="preserve"><tspan x="15.73" textLength="207.95" lengthAdjust="spacingAndGlyphs">Positron</tspan> <tspan x="240.27" textLength="158.93" lengthAdjust="spacingAndGlyphs">Ghosh</tspan> <tspan x="416.06" textLength="401.27" lengthAdjust="spacingAndGlyphs">Implementation</tspan> <tspan x="834.77" textLength="165.76" lengthAdjust="spacingAndGlyphs">Profile</tspan> <tspan x="1018.38" textLength="47.31" lengthAdjust="spacingAndGlyphs">in</tspan> <tspan x="1082.07" textLength="186.31" lengthAdjust="spacingAndGlyphs">Copper</tspan></text>
<text transform="translate(128.32 672.84) scale(0.5210 0.4716)" font-size="100" xml:space="preserve">0.00</text>
<text transform="translate(128.29 528.73) scale(0.5273 0.4716)" font-size="100" xml:space="preserve">0.02</text>
<text transform="translate(128.34 384.63) scale(0.5148 0.4716)" font-size="100" xml:space="preserve">0.04</text>
<text transform="translate(128.33 240.53) scale(0.5179 0.4716)" font-size="100" xml:space="preserve">0.06</text>
<text transform="translate(128.32 96.43) scale(0.5210 0.4716)" font-size="100" xml:space="preserve">0.08</text>
<text transform="translate(0 729.67) scale(1 0.4647)" font-size="100" xml:space="preserve"><tspan x="199.24" textLength="51.72" lengthAdjust="spacingAndGlyphs">10</tspan><tspan x="252.55" dy="-31.25" font-size="70.0" textLength="18.10" lengthAdjust="spacingAndGlyphs">0</tspan></text>
<text transform="translate(0 729.67) scale(1 0.4647)" font-size="100" xml:space="preserve"><tspan x="447.34" textLength="51.72" lengthAdjust="spacingAndGlyphs">10</tspan><tspan x="501.43" dy="-29.85" font-size="70.0" textLength="14.29" lengthAdjust="spacingAndGlyphs">1</tspan></text>
<text transform="translate(0 729.67) scale(1 0.4647)" font-size="100" xml:space="preserve"><tspan x="693.34" textLength="51.72" lengthAdjust="spacingAndGlyphs">10</tspan><tspan x="746.60" dy="-29.85" font-size="70.0" textLength="17.50" lengthAdjust="spacingAndGlyphs">2</tspan></text>
<text transform="translate(0 729.67) scale(1 0.4647)" font-size="100" xml:space="preserve"><tspan x="939.34" textLength="51.72" lengthAdjust="spacingAndGlyphs">10</tspan><tspan x="992.29" dy="-30.55" font-size="70.0" textLength="17.07" lengthAdjust="spacingAndGlyphs">3</tspan></text>
<text transform="translate(0.00 790.90) scale(1 0.4536)" font-size="100" xml:space="preserve"><tspan x="532.53" textLength="120.40" lengthAdjust="spacingAndGlyphs">depth</tspan><tspan x="653.71" textLength="99.79" lengthAdjust="spacingAndGlyphs">[nm]</tspan></text>
<text transform="translate(0.00 147.00) scale(1 0.4493)" font-size="100" xml:space="preserve"><tspan x="864.34" textLength="25.75" lengthAdjust="spacingAndGlyphs">2</tspan> <tspan x="904.13" textLength="81.07" lengthAdjust="spacingAndGlyphs">keV</tspan></text>
<text transform="translate(0.00 208.00) scale(1 0.4493)" font-size="100" xml:space="preserve"><tspan x="864.46" textLength="24.50" lengthAdjust="spacingAndGlyphs">5</tspan> <tspan x="904.13" textLength="81.07" lengthAdjust="spacingAndGlyphs">keV</tspan></text>
<text transform="translate(0.00 269.00) scale(1 0.4493)" font-size="100" xml:space="preserve"><tspan x="863.68" textLength="52.41" lengthAdjust="spacingAndGlyphs">15</tspan> <tspan x="930.03" textLength="81.17" lengthAdjust="spacingAndGlyphs">keV</tspan></text>
<text transform="translate(96.7 684.5) rotate(-90) scale(1 0.4580)" font-size="100" xml:space="preserve"><tspan x="-1.04" textLength="176.65" lengthAdjust="spacingAndGlyphs">Thermal</tspan> <tspan x="188.93" textLength="196.05" lengthAdjust="spacingAndGlyphs">positrons</tspan> <tspan x="397.90" textLength="82.88" lengthAdjust="spacingAndGlyphs">[nm</tspan><tspan x="482.81" dy="-32.10" font-size="72.8" textLength="40.32" lengthAdjust="spacingAndGlyphs">−1</tspan><tspan x="525.77" dy="32.10" textLength="20.72" lengthAdjust="spacingAndGlyphs">s</tspan><tspan x="549.23" dy="-32.10" font-size="72.8" textLength="39.76" lengthAdjust="spacingAndGlyphs">−1</tspan><tspan x="593.45" dy="32.10" textLength="13.78" lengthAdjust="spacingAndGlyphs">]</tspan></text>
</g>
</svg></body></html>
